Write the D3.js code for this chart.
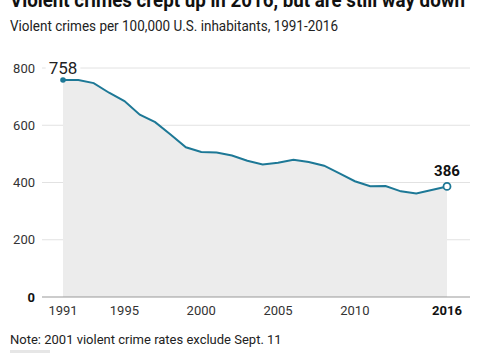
<!DOCTYPE html>
<html><head><meta charset="utf-8">
<script src="https://cdn.jsdelivr.net/npm/d3@7"></script>
<style>
body{margin:0;background:#fff;}
svg{display:block;font-family:"Roboto","Liberation Sans",sans-serif;}
</style></head>
<body><svg id="c" width="480" height="353"></svg>
<script>
const years = [1991,1992,1993,1994,1995,1996,1997,1998,1999,2000,2001,2002,2003,2004,2005,2006,2007,2008,2009,2010,2011,2012,2013,2014,2015,2016];
const rates = [758.2,757.7,747.1,713.6,684.5,636.6,611.0,567.6,523.0,506.5,504.5,494.4,475.8,463.2,469.0,479.3,471.8,458.6,431.9,404.5,387.1,387.8,369.1,361.6,373.7,386.3];
const yTicks = [0,200,400,600,800];
const xTicks = [1991,1995,2000,2005,2010,2016];
const title = "Violent crimes crept up in 2016, but are still way down";
const subtitle = "Violent crimes per 100,000 U.S. inhabitants, 1991-2016";
const note = "Note: 2001 violent crime rates exclude Sept. 11";

const data = years.map((y,i)=>({year:y,value:rates[i]}));
const svg = d3.select("#c");
const x = d3.scaleLinear().domain([1991,2016]).range([63,447]);
const y = d3.scaleLinear().domain([0,800]).range([297,68]);
const color = "#1d7896";

svg.append("text").attr("x",10).attr("y",7).attr("font-size",21).attr("font-weight",700).attr("fill","#111")
  .attr("textLength",455).attr("lengthAdjust","spacingAndGlyphs").text(title);
svg.append("text").attr("x",10).attr("y",31).attr("font-size",14).attr("fill","#222")
  .attr("textLength",328).attr("lengthAdjust","spacingAndGlyphs").text(subtitle);

// gridlines
svg.append("g").selectAll("line").data(yTicks.filter(d=>d>0)).join("line")
  .attr("x1",42).attr("x2",470).attr("y1",d=>y(d)).attr("y2",d=>y(d))
  .attr("stroke","#e2e2e2").attr("stroke-width",1);

svg.append("path").datum(data)
  .attr("d",d3.area().x(d=>x(d.year)).y0(y(0)).y1(d=>y(d.value)))
  .attr("fill","#ececec");

// baseline
svg.append("line").attr("x1",42).attr("x2",470).attr("y1",y(0)).attr("y2",y(0)).attr("stroke","#999").attr("stroke-width",1);

// y labels
svg.append("g").selectAll("text").data(yTicks).join("text")
  .attr("x",35).attr("y",d=>y(d)+4.5).attr("text-anchor","end")
  .attr("font-size",13).attr("fill",d=>d===0?"#111":"#333").attr("font-weight",d=>d===0?700:400)
  .text(d=>d);

// x labels
svg.append("g").selectAll("text").data(xTicks).join("text")
  .attr("x",d=>x(d)).attr("y",315).attr("text-anchor","middle")
  .attr("font-size",13).attr("fill",d=>d===2016?"#111":"#333").attr("font-weight",d=>d===2016?700:400)
  .text(d=>d);

svg.append("path").datum(data)
  .attr("d",d3.line().x(d=>x(d.year)).y(d=>y(d.value)))
  .attr("fill","none").attr("stroke",color).attr("stroke-width",2);

const first = data[0], last = data[data.length-1];
const lblG = svg.append("g");
const bgRect = lblG.append("rect").attr("fill","#fff");
const fl = lblG.append("text").attr("x",x(first.year)).attr("y",y(800)+6).attr("text-anchor","middle")
  .attr("font-size",17).attr("fill","#222").text(Math.round(first.value));
const bb = fl.node().getBBox();
bgRect.attr("x",bb.x-3).attr("y",bb.y).attr("width",bb.width+6).attr("height",bb.height);

svg.append("circle").attr("cx",x(first.year)).attr("cy",y(first.value)).attr("r",2.8).attr("fill",color);
svg.append("circle").attr("cx",x(last.year)).attr("cy",y(last.value)).attr("r",3.5).attr("fill","#fff").attr("stroke",color).attr("stroke-width",1.8);
svg.append("text").attr("x",x(last.year)).attr("y",y(last.value)-10).attr("text-anchor","middle")
  .attr("font-size",15).attr("font-weight",700).attr("fill","#111").text(Math.round(last.value));

svg.append("text").attr("x",10).attr("y",344).attr("font-size",13).attr("fill","#222").text(note);
svg.append("rect").attr("x",10).attr("y",350).attr("width",40).attr("height",3).attr("fill","#e6e6e6");
</script></body></html>
